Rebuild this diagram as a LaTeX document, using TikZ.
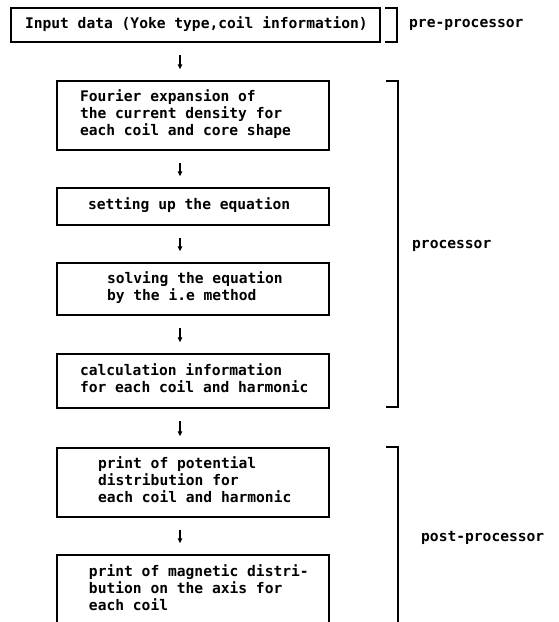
\documentclass[tikz,border=0pt]{standalone}
\usepackage{fontspec}
\setmainfont{DejaVu Sans Mono}
\usetikzlibrary{arrows.meta}
\newcommand\bxtext[3]{\makebox[#1][l]{\hspace*{#2}\begin{tabular}{@{}l@{}}#3\end{tabular}}}
\begin{document}
\begin{tikzpicture}[x=1pt,y=-1pt,
  flowbox/.style={draw,line width=1.4pt,inner sep=0pt,minimum height=#1,
    font=\fontsize{14.6}{17}\selectfont\bfseries},
  lbl/.style={inner sep=0pt,anchor=west,font=\fontsize{14.6}{17}\selectfont\bfseries},
  brk/.style={line width=1.4pt},
  flowarrow/.style={line width=1.4pt,-{Triangle[length=5pt,width=4.5pt]},shorten <=12pt,shorten >=11pt}]
\clip (0,0) rectangle (558,622);
\fill[white] (0,0) rectangle (558,622);
\coordinate (ax) at (180,0);
\node[flowbox=34] (b1) at (195.5,25) {\bxtext{369pt}{14pt}{Input data (Yoke type,coil information)}};
\node[flowbox=69] (b2) at (193,115.5) {\bxtext{272pt}{23pt}{Fourier expansion of\\the current density for\\each coil and core shape}};
\node[flowbox=37] (b3) at (193,206.5) {\bxtext{272pt}{31pt}{setting up the equation}};
\node[flowbox=52] (b4) at (193,289) {\bxtext{272pt}{50pt}{solving the equation\\by the i.e method}};
\node[flowbox=54] (b5) at (193,381) {\bxtext{272pt}{23pt}{calculation information\\for each coil and harmonic}};
\node[flowbox=69] (b6) at (193,482.5) {\bxtext{272pt}{41pt}{print of potential\\distribution for\\each coil and harmonic}};
\node[flowbox=71] (b7) at (193,590.5) {\bxtext{272pt}{32pt}{print of magnetic distri-\\bution on the axis for\\each coil}};
\draw[flowarrow] (b1.south -| ax) -- (b2.north -| ax);
\draw[flowarrow] (b2.south -| ax) -- (b3.north -| ax);
\draw[flowarrow] (b3.south -| ax) -- (b4.north -| ax);
\draw[flowarrow] (b4.south -| ax) -- (b5.north -| ax);
\draw[flowarrow] (b5.south -| ax) -- (b6.north -| ax);
\draw[flowarrow] (b6.south -| ax) -- (b7.north -| ax);
\draw[brk] (385,8) -- (397,8) -- (397,42) -- (385,42);
\draw[brk] (386,81) -- (398,81) -- (398,407) -- (386,407);
\draw[brk] (386,447) -- (398,447) -- (398,640);
\node[lbl] (pre) at (409,25) {pre-processor};
\node[lbl] (proc) at (412,246) {processor};
\node[lbl] (post) at (421,538) {post-processor};
\end{tikzpicture}
\end{document}
